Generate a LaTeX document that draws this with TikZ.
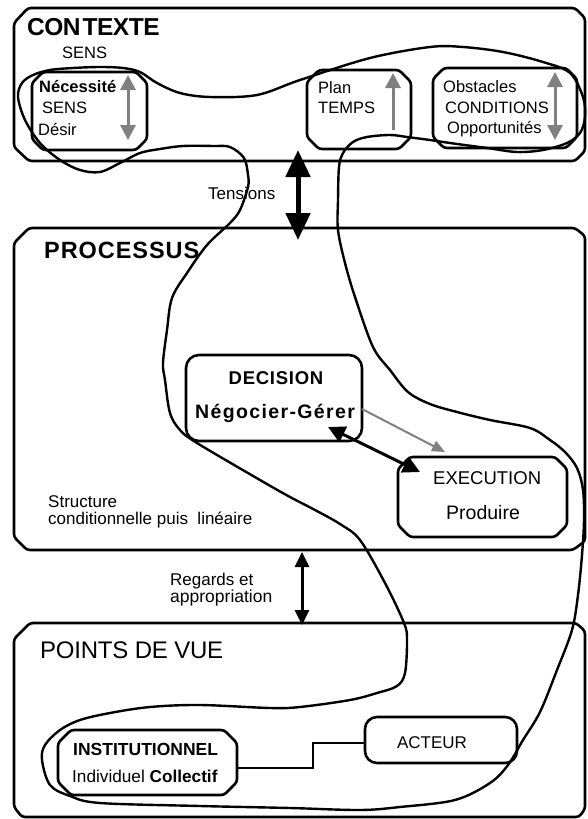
\documentclass[tikz,border=0pt]{standalone}
\usepackage{fontspec}
\setmainfont{Liberation Sans}
\usetikzlibrary{arrows.meta}
\definecolor{arrgray}{RGB}{128,128,128}
\tikzset{gtip/.tip={Triangle[length=15pt,width=15pt]}}
\newcommand\chbox[5]{\draw[boxline] ({#1},{#2+#5}) -- ({#1+#5},{#2}) -- ({#3-#5},{#2}) -- ({#3},{#2+#5}) -- ({#3},{#4-#5}) -- ({#3-#5},{#4}) -- ({#1+#5},{#4}) -- ({#1},{#4-#5}) -- cycle;}
\begin{document}
\begin{tikzpicture}[x=1pt,y=-1pt,
  boxline/.style={line width=2.6pt, rounded corners=3pt, line join=round},
  curveline/.style={line width=2.4pt, line join=round},
  txt/.style={anchor=base west, inner sep=0pt, font=\fontsize{16.5}{19}\selectfont},
  txtb/.style={txt, font=\fontsize{16.5}{19}\selectfont\bfseries},
  midtxt/.style={anchor=base west, inner sep=0pt, font=\fontsize{17}{20}\selectfont},
  bigtitle/.style={anchor=base west, inner sep=0pt, font=\fontsize{24}{28}\selectfont\bfseries},
  grayarrow/.style={draw=arrgray, line width=3pt}
]
\useasboundingbox (0,0) rectangle (587,819);

% ---------- big frames ----------
\draw[boxline] (14,23) -- (28,8) -- (575,8) -- (585,18) -- (585,151) -- (575,161) -- (29,161) -- (14,147) -- cycle;
\draw[boxline] (14,243) -- (29,228) -- (575,228) -- (585,236) -- (585,541) -- (573,550) -- (27,550) -- (14,537) -- cycle;
\draw[boxline] (14,639) -- (30,623) -- (576,623) -- (585,631) -- (585,809) -- (579,817) -- (22,817) -- (14,807) -- cycle;

% ---------- inner boxes ----------
\chbox{32}{72}{147}{150}{11}
\chbox{307}{70}{411}{149}{12}
\chbox{433}{68}{577}{148}{11}
\draw[boxline, rounded corners=13pt] (186,355) rectangle (362,441);
\chbox{398}{457}{567}{537}{12}
\chbox{58}{730}{237}{795}{13}
\draw[boxline, rounded corners=12pt] (365,717) rectangle (517,763);

% ---------- texts ----------
\node[bigtitle, font=\fontsize{24.5}{28}\selectfont\bfseries\addfontfeature{LetterSpace=-2}] (tctx) at (27,35) {CON\kern2pt TEXTE};
\node[txt] (tsens0) at (62,58) {SENS};
\node[txtb] (tnec) at (39,92) {Nécessité};
\node[txt] (tsens) at (42,113) {SENS};
\node[txt] (tdes) at (38,135) {Désir};
\node[txt] (tplan) at (318,93) {Plan};
\node[txt] (ttemps) at (318,113) {TEMPS};
\node[txt] (tobs) at (443,92) {Obstacles};
\node[txt] (tcond) at (445,113) {CONDITIONS};
\node[txt] (topp) at (447,133) {Opportunités};
\node[midtxt] (tten) at (208,199) {Tensions};
\node[bigtitle, font=\fontsize{23.5}{28}\selectfont\bfseries\addfontfeature{LetterSpace=4}] (tproc) at (44,258) {PROCESSUS};
\node[anchor=base, inner sep=0pt, font=\fontsize{18.5}{22}\selectfont\bfseries\addfontfeature{LetterSpace=4}] (tdec) at (276,384) {DECISION};
\node[anchor=base west, inner sep=0pt, font=\fontsize{19.5}{22}\selectfont\bfseries\addfontfeature{LetterSpace=7}] (tneg) at (195,418) {Négocier-Gérer};
\node[anchor=base west, inner sep=0pt, font=\fontsize{18.5}{22}\selectfont] (texe) at (433,484) {EXECUTION};
\node[anchor=base west, inner sep=0pt, font=\fontsize{19.5}{22}\selectfont] (tprod) at (446,519) {Produire};
\node[midtxt] (tstr) at (48,507) {Structure};
\node[midtxt] (tcondl) at (48,524) {conditionnelle puis \ linéaire};
\node[midtxt] (treg) at (170,585) {Regards et};
\node[midtxt, font=\fontsize{17.5}{20}\selectfont] (tapp) at (170,602) {appropriation};
\node[anchor=base west, inner sep=0pt, font=\fontsize{24}{28}\selectfont\addfontfeature{LetterSpace=-1}] (tpdv) at (40,658) {POINTS DE VUE};
\node[anchor=base west, inner sep=0pt, font=\fontsize{17.5}{20}\selectfont\bfseries] (tinst) at (73,755) {INSTITUTIONNEL};
\node[anchor=base west, inner sep=0pt, font=\fontsize{17.2}{20}\selectfont] (tind) at (72,782) {Individuel \textbf{Collectif}};
\node[anchor=base, inner sep=0pt, font=\fontsize{17}{20}\selectfont] (tact) at (432,748) {ACTEUR};

% ---------- arrows ----------
\coordinate (tenA) at (298,150);
\coordinate (tenB) at (298,240);
\draw[line width=5pt, {Triangle[length=27pt,width=24pt]}-{Triangle[length=27pt,width=24pt]}] (tenA) -- (tenB);

\coordinate (regA) at (302,552);
\coordinate (regB) at (302,625);
\draw[line width=3pt, {Triangle[length=15pt,width=14pt]}-{Triangle[length=15pt,width=14pt]}] (regA) -- (regB);

\coordinate (necA) at (128,75);
\coordinate (necB) at (128,140);
\draw[grayarrow, gtip-gtip] (necA) -- (necB);

\coordinate (planA) at (393,130);
\coordinate (planB) at (393,73);
\draw[grayarrow, -gtip] (planA) -- (planB);

\coordinate (obsA) at (555,72);
\coordinate (obsB) at (555,140);
\draw[grayarrow, gtip-gtip] (obsA) -- (obsB);

\coordinate (decA) at (328,427);
\coordinate (exeA) at (420,472);
\draw[line width=3pt, {Triangle[length=17pt,width=17pt]}-{Triangle[length=17pt,width=17pt]}] (decA) -- (exeA);

\coordinate (decB) at (362,409);
\coordinate (exeB) at (445,452);
\draw[draw=arrgray, line width=2pt, -{Triangle[length=13pt,width=11pt]}] (decB) -- (exeB);

% ---------- INSTITUTIONNEL -- ACTEUR ----------
\coordinate (instR) at (237,768);
\coordinate (actL) at (365,743);
\draw[line width=2pt] (instR) -- (313,768) -- (313,743) -- (actL);

% ---------- big closed curve ----------
\draw[curveline] plot[smooth cycle, tension=0.55] coordinates {
(18,97) (22,83) (33,75) (50,70) (73,68) (100,67) (123,68) (140,72) (157,83) (180,93) (210,97) (257,95) (300,80) (370,58) (430,47) (463,47) (503,52) (543,62) (570,73) (583,97) (585,117) (580,133) (567,143) (543,150) (517,152) (487,148) (450,143) (430,140) (407,137) (390,135) (367,137) (353,142) (343,153) (339,167) (338,200) (338,230) (345,263) (355,297) (373,347) (390,370) (408,392) (430,404) (457,412) (490,420) (530,428) (550,440) (565,452) (577,468) (583,490) (584,520) (582,555) (578,595) (572,630) (557,670) (540,712) (523,740) (508,765) (490,783) (455,800) (400,807) (360,810) (290,808) (200,806) (100,803) (70,796) (50,785) (42,760) (45,745) (60,730) (80,720) (110,713) (150,707) (200,705) (270,708) (300,707) (350,700) (377,693) (397,686) (405,673) (407,640) (404,623) (385,583) (360,540) (340,524) (315,510) (290,497) (260,480) (197,443) (180,430) (170,413) (165,380) (163,363) (167,330) (172,298) (187,273) (207,245) (230,223) (240,210) (248,187) (248,175) (244,158) (230,147) (213,146) (183,146) (160,149) (140,153) (120,163) (100,172) (80,170) (60,160) (40,143) (25,120)};
\end{tikzpicture}
\end{document}
